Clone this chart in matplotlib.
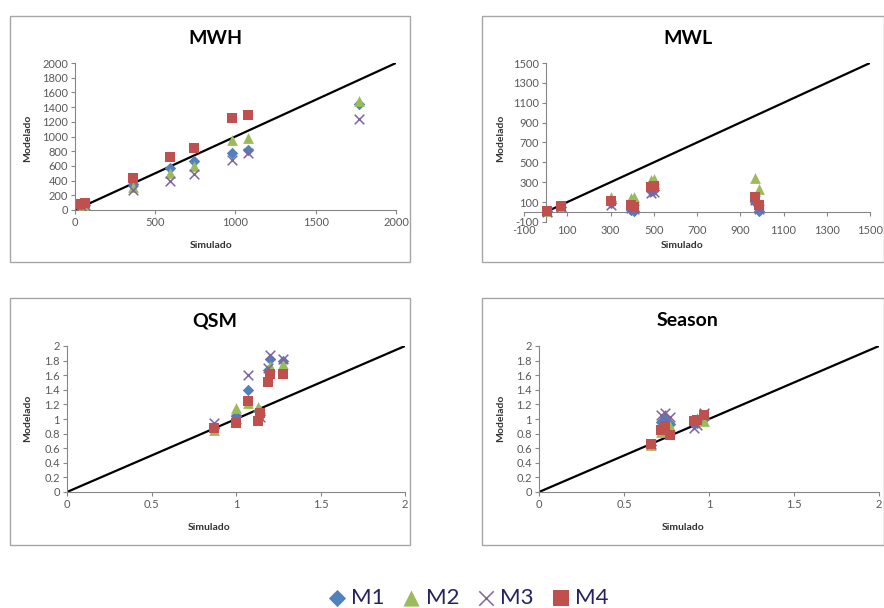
import numpy as np
import matplotlib
matplotlib.use('Agg')
import matplotlib.pyplot as plt
from matplotlib.patches import Rectangle

plt.rcParams['font.family'] = ['Lato', 'DejaVu Sans']

# data: simulated (x) vs modelled (y) for the four models
models = ['M1', 'M2', 'M3', 'M4']
colors = ['#4F81BD', '#9BBB59', '#8064A2', '#C0504D']
markers = ['D', '^', 'x', 's']
sizes = [34, 60, 48, 52]

mwh_sim = [40, 65, 359, 592, 741, 976, 1078, 1769]
mwh_m1 = [60, 70, 360, 577, 673, 782, 823, 1441]
mwh_m2 = [50, 60, 318, 509, 605, 950, 973, 1486]
mwh_m3 = [55, 65, 273, 395, 495, 682, 773, 1236]
mwh_m4 = [77, 90, 441, 718, 850, 1255, 1295, np.nan]

mwl_sim = [8, 70, 300, 393, 408, 487, 500, 968, 985]
mwl_m1 = [10, 55, 90, 20, 15, 210, 225, 100, 15]
mwl_m2 = [10, 60, 150, 140, 150, 320, 337, 343, 236]
mwl_m3 = [5, 50, 67, 40, 30, 190, 200, 118, 34]
mwl_m4 = [12, 57, 111, 67, 50, 252, 262, 151, 67]

qsm_sim = [0.87, 1.00, 1.07, 1.13, 1.14, 1.19, 1.20, 1.28]
qsm_m1 = [0.88, 1.04, 1.40, 1.01, 1.06, 1.67, 1.82, 1.80]
qsm_m2 = [0.85, 1.15, 1.22, 1.17, 1.12, 1.57, 1.72, 1.75]
qsm_m3 = [0.94, 1.00, 1.60, 1.05, 1.03, 1.70, 1.88, 1.82]
qsm_m4 = [0.87, 0.95, 1.24, 0.97, 1.08, 1.51, 1.62, 1.61]

sea_sim = [0.66, 0.72, 0.74, 0.77, 0.91, 0.93, 0.97]
sea_m1 = [0.65, 0.96, 1.00, 0.93, 0.93, 0.95, 1.00]
sea_m2 = [0.64, 0.82, 0.86, 0.90, 0.98, 1.02, 0.97]
sea_m3 = [0.66, 1.05, 1.08, 1.03, 0.88, 0.92, 1.08]
sea_m4 = [0.66, 0.85, 0.90, 0.78, 0.97, 0.99, 1.05]

W, H = 884, 608
fig = plt.figure(figsize=(W / 100, H / 100), dpi=100)


def px_rect(x0, y0, x1, y1):
    # pixel box (top-left origin) -> figure fraction [l, b, w, h]
    return [x0 / W, 1 - y1 / H, (x1 - x0) / W, (y1 - y0) / H]


def draw_panel(pos, frame, title, tpos, xlab_pos, ylab_pos, sim, ys,
               xlim, ylim, xticks, yticks, diag, cross_zero=False):
    fig.add_artist(Rectangle((frame[0] / W, 1 - frame[3] / H),
                             (frame[2] - frame[0]) / W, (frame[3] - frame[1]) / H,
                             transform=fig.transFigure, fill=False,
                             edgecolor='#a6a6a6', lw=1))
    ax = fig.add_axes(px_rect(*pos))
    handles = []
    for i in range(4):
        kw = dict(marker=markers[i], s=sizes[i], color=colors[i], zorder=3 + i)
        if markers[i] == 'x':
            kw['linewidths'] = 1.1
        else:
            kw['linewidths'] = 0
        h = ax.scatter(sim, ys[i], label=models[i], **kw)
        handles.append(h)
    ax.plot([0, diag], [0, diag], color='black', lw=1.6, zorder=2)
    ax.set_xlim(xlim)
    ax.set_ylim(ylim)
    ax.set_xticks(xticks)
    ax.set_yticks(yticks)
    for s in ['top', 'right']:
        ax.spines[s].set_visible(False)
    for s in ['left', 'bottom']:
        ax.spines[s].set_color('#868686')
        ax.spines[s].set_linewidth(0.8)
    if cross_zero:
        ax.spines['left'].set_position(('data', 0))
        ax.spines['bottom'].set_position(('data', 0))
    ax.tick_params(direction='out', length=3, width=0.8, color='#868686',
                   labelsize=8, labelcolor='#595959', pad=2)
    if cross_zero:
        ax.tick_params(axis='x', pad=6)
    ax.patch.set_alpha(0)
    fig.text(tpos[0] / W, 1 - tpos[1] / H, title, ha='center', va='center',
             fontsize=14, fontweight='bold')
    fig.text(xlab_pos[0] / W, 1 - xlab_pos[1] / H, 'Simulado', ha='center',
             va='center', fontsize=7.5, fontweight='bold', color='#333333')
    fig.text(ylab_pos[0] / W, 1 - ylab_pos[1] / H, 'Modelado', ha='center',
             va='center', rotation=90, fontsize=7.5, fontweight='bold',
             color='#333333')
    return handles


handles = draw_panel((75, 63, 396, 210), (10, 16, 410, 262), 'MWH', (215, 38),
                     (211, 245), (28, 138), mwh_sim,
                     [mwh_m1, mwh_m2, mwh_m3, mwh_m4],
                     (0, 2000), (0, 2000), range(0, 2001, 500),
                     range(0, 2001, 200), 2000)

draw_panel((524, 63, 870, 222), (482, 16, 884, 262), 'MWL', (688, 38),
           (682, 245), (501, 138), mwl_sim,
           [mwl_m1, mwl_m2, mwl_m3, mwl_m4],
           (-100, 1500), (-100, 1500), range(-100, 1501, 200),
           range(-100, 1501, 200), 1500, cross_zero=True)

draw_panel((67, 346, 405, 492), (10, 298, 410, 545), 'QSM', (215, 321),
           (209, 528), (28, 418), qsm_sim,
           [qsm_m1, qsm_m2, qsm_m3, qsm_m4],
           (0, 2), (0, 2), [0, 0.5, 1, 1.5, 2], np.arange(0, 2.01, 0.2), 2)

draw_panel((539, 346, 879, 492), (482, 298, 884, 545), 'Season', (688, 320),
           (683, 528), (501, 418), sea_sim,
           [sea_m1, sea_m2, sea_m3, sea_m4],
           (0, 2), (0, 2), [0, 0.5, 1, 1.5, 2], np.arange(0, 2.01, 0.2), 2)

# tick label formatting like Excel (1 instead of 1.0, 0.5 kept)
for ax in fig.axes:
    xt = ax.get_xticks()
    yt = ax.get_yticks()
    ax.set_xticklabels(['%g' % round(v, 2) for v in xt])
    ax.set_yticklabels(['%g' % round(v, 2) for v in yt])

fig.legend(handles=handles, labels=models, loc='center',
           bbox_to_anchor=(467 / W, 1 - 598 / H), ncol=4, frameon=False,
           fontsize=16, handlelength=1.0, handletextpad=0.15,
           columnspacing=0.7, markerscale=1.5, labelcolor='#262262')

fig.savefig('out.png', dpi=100)
